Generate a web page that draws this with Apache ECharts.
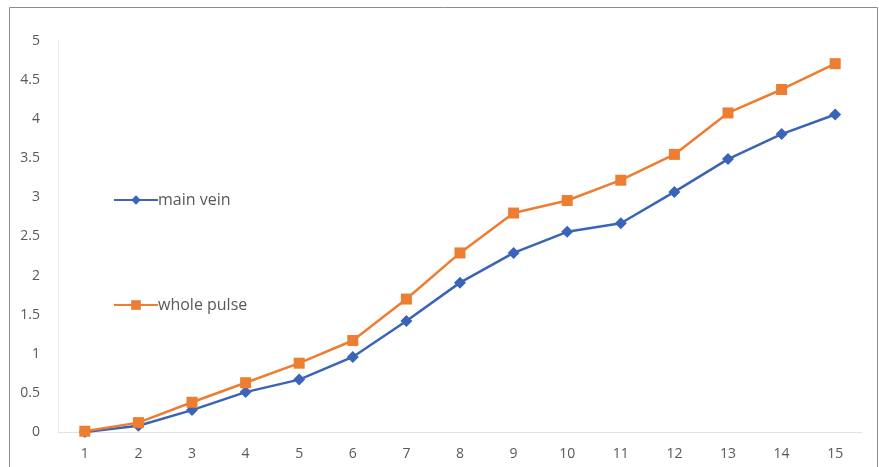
<!DOCTYPE html>
<html>
<head>
<meta charset="utf-8">
<style>
  html, body { margin: 0; padding: 0; background: #ffffff; }
  #chart { width: 879px; height: 467px; }
</style>
<script src="https://cdn.jsdelivr.net/npm/echarts@6/dist/echarts.min.js"></script>
</head>
<body>
<div id="chart"></div>
<script>
// Sampling points 1..15
const categories = ['1','2','3','4','5','6','7','8','9','10','11','12','13','14','15'];
// Measured values per series
const mainVein   = [0, 0.08, 0.28, 0.51, 0.67, 0.96, 1.42, 1.91, 2.29, 2.56, 2.67, 3.07, 3.49, 3.81, 4.06];
const wholePulse = [0.01, 0.12, 0.38, 0.63, 0.88, 1.17, 1.70, 2.29, 2.80, 2.96, 3.22, 3.55, 4.08, 4.38, 4.71];
const seriesNames = ['main vein', 'whole pulse'];

const chart = echarts.init(document.getElementById('chart'), null, { renderer: 'canvas' });
const font = '"Open Sans", "Liberation Sans", sans-serif';

chart.setOption({
  animation: false,
  backgroundColor: '#ffffff',
  graphic: [{
    type: 'rect',
    shape: { x: 9.5, y: 7.5, width: 868, height: 480 },
    style: { fill: 'none', stroke: '#8c8c8c', lineWidth: 1 },
    silent: true
  }],
  grid: { left: 58, right: 17, top: 41, bottom: 35, containLabel: false },
  legend: {
    orient: 'vertical',
    left: 108,
    top: 187,
    itemGap: 89,
    itemWidth: 44,
    itemHeight: 12,
    textStyle: { fontFamily: font, fontSize: 16, color: '#595959', padding: [0, 0, 0, -5] },
    data: seriesNames
  },
  xAxis: {
    type: 'category',
    data: categories,
    boundaryGap: true,
    axisLine: { show: true, lineStyle: { color: '#e3e3e3', width: 1 } },
    axisTick: { show: false },
    axisLabel: { margin: 15, fontFamily: font, fontSize: 14, color: '#595959' },
    splitLine: { show: false }
  },
  yAxis: {
    type: 'value',
    min: 0,
    max: 5,
    interval: 0.5,
    axisLine: { show: true, lineStyle: { color: '#ececec', width: 1 } },
    axisTick: { show: false },
    axisLabel: { margin: 18, fontFamily: font, fontSize: 14, color: '#595959' },
    splitLine: { show: false }
  },
  series: [
    {
      name: seriesNames[0],
      type: 'line',
      data: mainVein,
      symbol: 'diamond',
      symbolSize: 12,
      lineStyle: { color: '#3a64b8', width: 2.5 },
      itemStyle: { color: '#3a64b8' }
    },
    {
      name: seriesNames[1],
      type: 'line',
      data: wholePulse,
      symbol: 'rect',
      symbolSize: 11,
      lineStyle: { color: '#ed7d31', width: 2.5 },
      itemStyle: { color: '#ed7d31' }
    }
  ]
});
</script>
</body>
</html>
